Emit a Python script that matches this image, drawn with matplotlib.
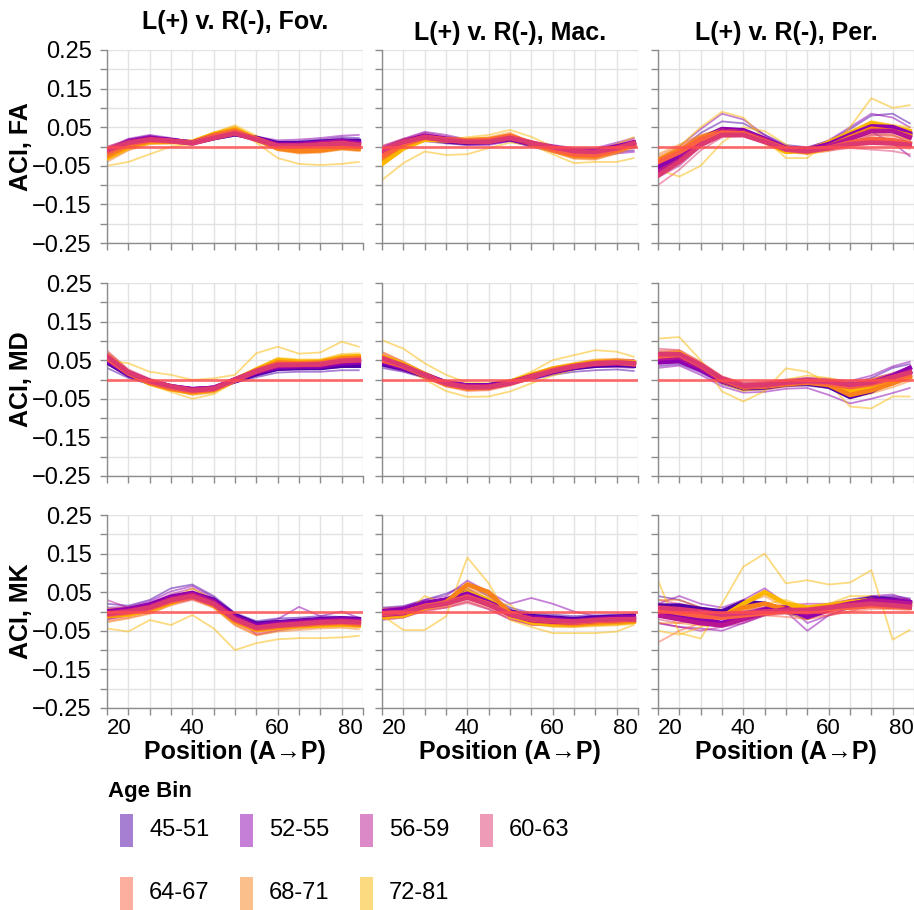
import matplotlib
matplotlib.use('Agg')
import matplotlib.pyplot as plt
from matplotlib.patches import Rectangle
import numpy as np

plt.rcParams['font.family'] = ['Liberation Sans', 'DejaVu Sans']

AGE_BINS = ['45-51', '52-55', '56-59', '60-63', '64-67', '68-71', '72-81']
BIN_COLORS = ['#4f00a9', '#8f00b1', '#b91591', '#dd3971', '#fb6141', '#f98119', '#fbb700']
POSITIONS = [20, 25, 30, 35, 40, 45, 50, 55, 60, 65, 70, 75, 79]
ROW_LABELS = ['ACI, FA', 'ACI, MD', 'ACI, MK']
COL_TITLES = ['L(+) v. R(-), Fov.', 'L(+) v. R(-), Mac.', 'L(+) v. R(-), Per.']
X_LABEL = 'Position (A\u2192P)'
Y_TICKS = [-0.25, -0.20, -0.15, -0.10, -0.05, 0.0, 0.05, 0.10, 0.15, 0.20, 0.25]
Y_TICK_LABELS = ['\u22120.25', '', '\u22120.15', '', '\u22120.05', '', '0.05', '', '0.15', '', '0.25']
X_TICKS = [20, 25, 30, 35, 40, 45, 50, 55, 60, 65, 70, 75, 80]
X_TICK_LABELS = ['20', '', '', '', '40', '', '', '', '60', '', '', '', '80']

# ---------------- FA, Fov. ----------------
FA_FOV_MEAN = [
    [-0.020, 0.010, 0.020, 0.016, 0.010, 0.022, 0.032, 0.022, 0.008, 0.008, 0.012, 0.015, 0.014],
    [-0.012, 0.012, 0.022, 0.016, 0.010, 0.024, 0.034, 0.020, 0.005, 0.006, 0.010, 0.014, 0.010],
    [-0.015, 0.008, 0.020, 0.014, 0.010, 0.026, 0.036, 0.020, 0.003, 0.003, 0.008, 0.012, 0.006],
    [-0.010, 0.010, 0.018, 0.015, 0.008, 0.022, 0.034, 0.018, 0.002, 0.002, 0.004, 0.008, 0.004],
    [-0.015, 0.006, 0.016, 0.014, 0.009, 0.026, 0.038, 0.020, 0.000, 0.000, 0.004, 0.008, 0.002],
    [-0.025, 0.002, 0.014, 0.013, 0.010, 0.030, 0.042, 0.018, -0.005, -0.012, -0.010, -0.003, -0.006],
    [-0.030, -0.002, 0.012, 0.012, 0.012, 0.032, 0.045, 0.020, -0.004, -0.008, -0.006, 0.000, -0.002],
]
FA_FOV_THIN = [
    [-0.030, 0.000, 0.015, 0.014, 0.006, 0.018, 0.028, 0.024, 0.012, 0.014, 0.018, 0.024, 0.022],
    [-0.010, 0.018, 0.028, 0.020, 0.012, 0.024, 0.034, 0.018, 0.004, 0.004, 0.008, 0.010, 0.008],
    [-0.005, 0.020, 0.030, 0.022, 0.012, 0.020, 0.030, 0.026, 0.016, 0.018, 0.022, 0.028, 0.030],
    [-0.025, 0.004, 0.014, 0.012, 0.008, 0.024, 0.036, 0.016, 0.000, -0.002, 0.004, 0.006, 0.002],
    [-0.028, -0.004, 0.012, 0.012, 0.008, 0.028, 0.040, 0.018, 0.000, 0.004, 0.006, 0.012, 0.004],
    [-0.002, 0.018, 0.026, 0.018, 0.012, 0.022, 0.030, 0.022, 0.010, 0.008, 0.014, 0.020, 0.012],
    [-0.020, 0.004, 0.014, 0.012, 0.004, 0.018, 0.030, 0.014, -0.004, -0.002, 0.002, 0.004, -0.002],
    [0.000, 0.016, 0.024, 0.018, 0.010, 0.026, 0.040, 0.022, 0.006, 0.006, 0.010, 0.012, 0.010],
    [-0.035, -0.008, 0.008, 0.010, 0.006, 0.030, 0.046, 0.022, -0.008, -0.010, -0.004, 0.002, -0.006],
    [-0.005, 0.014, 0.022, 0.016, 0.012, 0.022, 0.032, 0.016, 0.004, 0.004, 0.006, 0.010, 0.008],
    [-0.040, -0.010, 0.006, 0.008, 0.008, 0.034, 0.052, 0.020, -0.010, -0.018, -0.016, -0.008, -0.012],
    [-0.012, 0.010, 0.020, 0.016, 0.012, 0.028, 0.040, 0.016, 0.000, -0.004, -0.002, 0.004, 0.000],
    [-0.050, -0.040, -0.020, 0.000, 0.006, 0.030, 0.045, 0.010, -0.030, -0.045, -0.048, -0.045, -0.040],
    [-0.020, 0.008, 0.020, 0.016, 0.014, 0.036, 0.055, 0.028, 0.002, -0.004, 0.000, 0.006, 0.002],
]

# ---------------- FA, Mac. ----------------
FA_MAC_MEAN = [
    [-0.018, 0.010, 0.022, 0.014, 0.010, 0.012, 0.020, 0.006, -0.004, -0.012, -0.014, -0.004, 0.002],
    [-0.015, 0.012, 0.028, 0.020, 0.014, 0.012, 0.020, 0.008, -0.002, -0.012, -0.012, 0.000, 0.010],
    [-0.020, 0.008, 0.026, 0.018, 0.012, 0.014, 0.022, 0.008, -0.004, -0.016, -0.016, -0.004, 0.010],
    [-0.010, 0.012, 0.024, 0.016, 0.012, 0.012, 0.022, 0.010, -0.002, -0.012, -0.014, -0.004, 0.008],
    [-0.025, 0.006, 0.024, 0.018, 0.014, 0.016, 0.026, 0.010, -0.008, -0.020, -0.022, -0.008, 0.006],
    [-0.030, 0.004, 0.022, 0.018, 0.016, 0.018, 0.028, 0.008, -0.010, -0.024, -0.026, -0.010, 0.004],
    [-0.045, -0.005, 0.018, 0.016, 0.016, 0.018, 0.026, 0.006, -0.008, -0.020, -0.020, -0.008, 0.004],
]
FA_MAC_THIN = [
    [-0.030, 0.000, 0.014, 0.008, 0.004, 0.006, 0.014, 0.000, -0.012, -0.020, -0.022, -0.014, -0.010],
    [-0.005, 0.018, 0.030, 0.020, 0.014, 0.016, 0.024, 0.010, 0.002, -0.006, -0.006, 0.004, 0.012],
    [-0.002, 0.020, 0.038, 0.030, 0.018, 0.014, 0.022, 0.012, 0.004, -0.004, -0.004, 0.010, 0.022],
    [-0.028, 0.002, 0.018, 0.010, 0.004, 0.004, 0.014, 0.000, -0.014, -0.024, -0.026, -0.018, -0.014],
    [-0.035, -0.004, 0.020, 0.016, 0.010, 0.012, 0.018, 0.004, -0.008, -0.018, -0.020, -0.008, 0.004],
    [0.000, 0.018, 0.036, 0.026, 0.016, 0.016, 0.026, 0.012, 0.000, -0.010, -0.008, 0.006, 0.018],
    [-0.020, 0.004, 0.018, 0.010, 0.008, 0.010, 0.020, 0.006, -0.006, -0.018, -0.020, -0.010, 0.000],
    [0.002, 0.020, 0.030, 0.022, 0.016, 0.016, 0.026, 0.014, 0.002, -0.006, -0.008, 0.002, 0.014],
    [-0.040, -0.004, 0.020, 0.018, 0.016, 0.020, 0.032, 0.012, -0.014, -0.030, -0.032, -0.018, -0.004],
    [-0.012, 0.014, 0.028, 0.018, 0.012, 0.012, 0.020, 0.008, -0.002, -0.012, -0.014, 0.000, 0.012],
    [-0.038, 0.000, 0.026, 0.022, 0.020, 0.024, 0.036, 0.010, -0.014, -0.032, -0.034, -0.018, 0.000],
    [-0.018, 0.008, 0.020, 0.014, 0.012, 0.014, 0.022, 0.006, -0.006, -0.016, -0.018, -0.006, 0.008],
    [-0.087, -0.043, -0.013, -0.022, -0.020, -0.004, 0.010, 0.004, -0.020, -0.043, -0.040, -0.040, -0.030],
    [-0.030, 0.004, 0.020, 0.018, 0.024, 0.030, 0.043, 0.025, 0.000, -0.010, -0.012, 0.006, 0.024],
]

# ---------------- FA, Per. ----------------
FA_PER_MEAN = [
    [-0.060, -0.030, 0.015, 0.040, 0.040, 0.018, -0.006, -0.012, 0.002, 0.028, 0.050, 0.048, 0.030],
    [-0.050, -0.020, 0.020, 0.045, 0.042, 0.020, -0.004, -0.008, 0.006, 0.030, 0.052, 0.050, 0.034],
    [-0.065, -0.035, 0.010, 0.040, 0.036, 0.016, -0.006, -0.010, 0.000, 0.020, 0.040, 0.040, 0.024],
    [-0.075, -0.040, 0.004, 0.030, 0.030, 0.012, -0.008, -0.012, -0.004, 0.006, 0.010, 0.008, 0.004],
    [-0.040, -0.015, 0.018, 0.036, 0.034, 0.014, -0.006, -0.012, -0.004, 0.010, 0.020, 0.016, 0.008],
    [-0.035, -0.010, 0.022, 0.040, 0.036, 0.016, -0.008, -0.014, 0.000, 0.024, 0.046, 0.040, 0.028],
    [-0.040, -0.020, 0.020, 0.044, 0.040, 0.012, -0.014, -0.010, 0.010, 0.034, 0.060, 0.050, 0.040],
]
FA_PER_THIN = [
    [-0.070, -0.040, 0.008, 0.034, 0.034, 0.012, -0.012, -0.018, -0.004, 0.020, 0.044, 0.040, 0.018],
    [-0.045, -0.010, 0.035, 0.065, 0.060, 0.030, 0.004, -0.002, 0.014, 0.045, 0.080, 0.085, 0.060],
    [-0.035, 0.000, 0.045, 0.085, 0.070, 0.030, 0.000, -0.004, 0.016, 0.050, 0.085, 0.075, 0.050],
    [-0.060, -0.035, 0.005, 0.034, 0.034, 0.012, -0.014, -0.016, -0.004, 0.018, 0.038, 0.010, -0.025],
    [-0.080, -0.050, 0.000, 0.032, 0.030, 0.010, -0.010, -0.014, -0.008, 0.010, 0.030, 0.030, 0.010],
    [-0.050, -0.020, 0.022, 0.048, 0.044, 0.022, 0.000, -0.004, 0.008, 0.030, 0.052, 0.054, 0.038],
    [-0.100, -0.060, -0.010, 0.024, 0.026, 0.008, -0.012, -0.016, -0.010, -0.004, -0.008, -0.012, -0.020],
    [-0.055, -0.025, 0.015, 0.038, 0.036, 0.016, -0.004, -0.008, 0.002, 0.014, 0.022, 0.020, 0.012],
    [-0.055, -0.030, 0.010, 0.030, 0.030, 0.010, -0.010, -0.018, -0.012, 0.000, 0.008, 0.004, -0.006],
    [-0.025, 0.000, 0.028, 0.044, 0.040, 0.020, -0.002, -0.006, 0.004, 0.020, 0.030, 0.026, 0.018],
    [-0.020, 0.005, 0.030, 0.046, 0.040, 0.020, -0.004, -0.010, 0.004, 0.030, 0.054, 0.050, 0.040],
    [-0.050, -0.025, 0.012, 0.034, 0.032, 0.010, -0.014, -0.020, -0.006, 0.016, 0.036, 0.030, 0.016],
    [-0.060, -0.078, -0.050, 0.010, 0.050, 0.040, 0.005, -0.020, -0.010, 0.050, 0.125, 0.100, 0.107],
    [-0.030, 0.000, 0.050, 0.090, 0.075, 0.020, -0.030, -0.030, 0.016, 0.040, 0.066, 0.056, 0.050],
]

# ---------------- MD, Fov. ----------------
MD_FOV_MEAN = [
    [0.045, 0.012, -0.008, -0.020, -0.026, -0.022, -0.004, 0.014, 0.028, 0.030, 0.030, 0.036, 0.036],
    [0.050, 0.014, -0.006, -0.018, -0.025, -0.022, -0.002, 0.018, 0.032, 0.034, 0.034, 0.042, 0.044],
    [0.058, 0.018, -0.004, -0.018, -0.026, -0.022, 0.000, 0.020, 0.036, 0.038, 0.038, 0.048, 0.050],
    [0.060, 0.018, -0.004, -0.018, -0.028, -0.024, 0.000, 0.022, 0.038, 0.038, 0.040, 0.048, 0.050],
    [0.055, 0.016, -0.008, -0.022, -0.030, -0.026, -0.002, 0.022, 0.040, 0.040, 0.040, 0.050, 0.052],
    [0.060, 0.018, -0.008, -0.024, -0.032, -0.026, 0.000, 0.024, 0.044, 0.042, 0.044, 0.054, 0.056],
    [0.055, 0.016, -0.010, -0.025, -0.034, -0.028, -0.002, 0.026, 0.050, 0.046, 0.046, 0.058, 0.060],
]
MD_FOV_THIN = [
    [0.030, 0.004, -0.012, -0.022, -0.026, -0.020, -0.008, 0.006, 0.018, 0.020, 0.020, 0.024, 0.024],
    [0.060, 0.020, -0.002, -0.016, -0.024, -0.020, 0.002, 0.020, 0.036, 0.038, 0.040, 0.046, 0.048],
    [0.040, 0.008, -0.010, -0.020, -0.028, -0.026, -0.006, 0.012, 0.026, 0.026, 0.028, 0.032, 0.034],
    [0.065, 0.022, 0.000, -0.014, -0.022, -0.018, 0.004, 0.024, 0.040, 0.042, 0.042, 0.050, 0.054],
    [0.070, 0.024, 0.000, -0.016, -0.024, -0.020, 0.002, 0.024, 0.042, 0.044, 0.044, 0.054, 0.058],
    [0.045, 0.012, -0.008, -0.022, -0.030, -0.026, -0.004, 0.016, 0.030, 0.032, 0.032, 0.040, 0.042],
    [0.075, 0.026, 0.002, -0.014, -0.024, -0.020, 0.004, 0.026, 0.044, 0.044, 0.046, 0.056, 0.060],
    [0.048, 0.012, -0.010, -0.024, -0.032, -0.028, -0.004, 0.018, 0.034, 0.034, 0.036, 0.042, 0.044],
    [0.045, 0.010, -0.012, -0.028, -0.038, -0.032, -0.008, 0.018, 0.036, 0.036, 0.036, 0.044, 0.046],
    [0.068, 0.022, -0.004, -0.018, -0.026, -0.022, 0.002, 0.026, 0.044, 0.044, 0.046, 0.056, 0.058],
    [0.072, 0.024, -0.006, -0.026, -0.040, -0.034, -0.004, 0.026, 0.050, 0.046, 0.050, 0.062, 0.064],
    [0.050, 0.014, -0.010, -0.024, -0.034, -0.028, -0.002, 0.022, 0.040, 0.038, 0.040, 0.048, 0.050],
    [0.050, 0.042, 0.020, 0.012, -0.001, 0.003, 0.012, 0.068, 0.085, 0.067, 0.070, 0.098, 0.085],
    [0.060, 0.014, -0.014, -0.032, -0.050, -0.038, -0.006, 0.028, 0.056, 0.052, 0.052, 0.066, 0.068],
]

# ---------------- MD, Mac. ----------------
MD_MAC_MEAN = [
    [0.040, 0.028, 0.010, -0.010, -0.016, -0.015, -0.006, 0.006, 0.020, 0.030, 0.036, 0.038, 0.036],
    [0.045, 0.030, 0.012, -0.008, -0.016, -0.016, -0.008, 0.006, 0.020, 0.032, 0.040, 0.042, 0.040],
    [0.052, 0.034, 0.012, -0.010, -0.018, -0.018, -0.008, 0.008, 0.022, 0.034, 0.040, 0.042, 0.040],
    [0.055, 0.036, 0.012, -0.010, -0.020, -0.020, -0.010, 0.006, 0.022, 0.034, 0.042, 0.044, 0.042],
    [0.050, 0.034, 0.010, -0.012, -0.022, -0.020, -0.010, 0.006, 0.024, 0.034, 0.042, 0.044, 0.040],
    [0.058, 0.036, 0.012, -0.012, -0.022, -0.020, -0.008, 0.010, 0.026, 0.036, 0.044, 0.046, 0.042],
    [0.060, 0.040, 0.014, -0.012, -0.022, -0.020, -0.006, 0.012, 0.028, 0.038, 0.046, 0.046, 0.044],
]
MD_MAC_THIN = [
    [0.030, 0.020, 0.004, -0.014, -0.020, -0.020, -0.012, 0.000, 0.012, 0.020, 0.024, 0.026, 0.022],
    [0.050, 0.034, 0.016, -0.004, -0.012, -0.012, -0.002, 0.012, 0.026, 0.036, 0.044, 0.046, 0.046],
    [0.035, 0.022, 0.006, -0.012, -0.018, -0.018, -0.012, 0.000, 0.014, 0.026, 0.032, 0.032, 0.030],
    [0.060, 0.040, 0.018, -0.004, -0.012, -0.012, -0.004, 0.012, 0.028, 0.040, 0.048, 0.050, 0.050],
    [0.065, 0.042, 0.018, -0.006, -0.014, -0.014, -0.004, 0.012, 0.028, 0.040, 0.046, 0.048, 0.046],
    [0.042, 0.028, 0.006, -0.016, -0.024, -0.022, -0.012, 0.004, 0.018, 0.028, 0.034, 0.036, 0.034],
    [0.070, 0.046, 0.018, -0.006, -0.016, -0.016, -0.006, 0.010, 0.026, 0.038, 0.048, 0.052, 0.050],
    [0.045, 0.028, 0.006, -0.016, -0.026, -0.026, -0.014, 0.002, 0.018, 0.030, 0.036, 0.036, 0.034],
    [0.040, 0.026, 0.004, -0.018, -0.030, -0.028, -0.016, 0.002, 0.020, 0.030, 0.038, 0.040, 0.036],
    [0.062, 0.042, 0.016, -0.006, -0.016, -0.014, -0.004, 0.012, 0.028, 0.038, 0.046, 0.048, 0.046],
    [0.072, 0.046, 0.018, -0.008, -0.018, -0.016, -0.004, 0.014, 0.032, 0.042, 0.052, 0.054, 0.050],
    [0.048, 0.030, 0.006, -0.018, -0.028, -0.026, -0.012, 0.006, 0.022, 0.032, 0.040, 0.040, 0.036],
    [0.102, 0.080, 0.042, 0.012, -0.008, -0.010, -0.002, 0.020, 0.050, 0.063, 0.076, 0.072, 0.059],
    [0.050, 0.030, 0.000, -0.030, -0.045, -0.044, -0.031, -0.010, 0.010, 0.025, 0.036, 0.040, 0.036],
]

# ---------------- MD, Per. ----------------
MD_PER_MEAN = [
    [0.050, 0.052, 0.028, -0.004, -0.022, -0.020, -0.012, -0.010, -0.018, -0.045, -0.030, 0.000, 0.020],
    [0.045, 0.048, 0.025, -0.004, -0.020, -0.018, -0.010, -0.006, -0.008, -0.014, -0.008, 0.010, 0.030],
    [0.055, 0.058, 0.032, -0.002, -0.018, -0.016, -0.008, -0.004, -0.008, -0.018, -0.010, 0.006, 0.020],
    [0.065, 0.066, 0.038, 0.002, -0.016, -0.014, -0.008, -0.004, -0.006, -0.014, -0.008, 0.006, 0.018],
    [0.060, 0.064, 0.036, 0.000, -0.018, -0.016, -0.010, -0.006, -0.010, -0.020, -0.012, 0.002, 0.012],
    [0.058, 0.062, 0.034, -0.002, -0.020, -0.018, -0.012, -0.008, -0.014, -0.040, -0.028, -0.010, 0.006],
    [0.062, 0.068, 0.036, 0.000, -0.020, -0.016, -0.008, -0.004, -0.010, -0.030, -0.020, -0.004, 0.010],
]
MD_PER_THIN = [
    [0.035, 0.040, 0.018, -0.012, -0.028, -0.026, -0.018, -0.016, -0.022, -0.040, -0.034, -0.010, 0.006],
    [0.060, 0.064, 0.036, 0.004, -0.014, -0.012, -0.004, 0.000, -0.006, -0.014, 0.004, 0.030, 0.040],
    [0.030, 0.036, 0.012, -0.018, -0.034, -0.032, -0.024, -0.022, -0.040, -0.062, -0.050, -0.035, -0.022],
    [0.060, 0.062, 0.036, 0.006, -0.010, -0.008, 0.000, 0.004, 0.000, -0.004, 0.010, 0.034, 0.046],
    [0.072, 0.072, 0.040, 0.004, -0.012, -0.010, -0.002, 0.002, 0.000, -0.008, 0.000, 0.016, 0.030],
    [0.040, 0.044, 0.022, -0.010, -0.026, -0.024, -0.016, -0.012, -0.016, -0.028, -0.020, -0.006, 0.008],
    [0.080, 0.076, 0.044, 0.008, -0.010, -0.006, -0.002, 0.004, 0.002, -0.004, 0.002, 0.016, 0.028],
    [0.050, 0.054, 0.030, -0.004, -0.022, -0.020, -0.014, -0.010, -0.012, -0.022, -0.016, -0.002, 0.008],
    [0.045, 0.050, 0.026, -0.008, -0.026, -0.024, -0.016, -0.012, -0.016, -0.030, -0.022, -0.008, 0.004],
    [0.075, 0.076, 0.046, 0.008, -0.010, -0.008, -0.004, 0.000, -0.002, -0.010, -0.002, 0.012, 0.022],
    [0.070, 0.074, 0.042, 0.004, -0.014, -0.012, -0.006, -0.002, -0.006, -0.030, -0.020, 0.000, 0.018],
    [0.046, 0.050, 0.026, -0.008, -0.028, -0.026, -0.018, -0.014, -0.020, -0.048, -0.036, -0.020, -0.004],
    [0.106, 0.110, 0.050, -0.031, -0.057, -0.030, 0.029, 0.020, -0.010, -0.070, -0.075, -0.044, -0.044],
    [0.050, 0.056, 0.030, -0.010, -0.030, -0.020, 0.000, 0.010, 0.004, -0.010, 0.000, 0.014, 0.028],
]

# ---------------- MK, Fov. ----------------
MK_FOV_MEAN = [
    [-0.002, 0.004, 0.016, 0.036, 0.046, 0.030, -0.010, -0.032, -0.028, -0.024, -0.020, -0.018, -0.020],
    [0.000, 0.006, 0.018, 0.038, 0.048, 0.028, -0.014, -0.036, -0.030, -0.026, -0.022, -0.020, -0.022],
    [-0.004, 0.002, 0.012, 0.032, 0.044, 0.024, -0.018, -0.042, -0.034, -0.030, -0.026, -0.024, -0.026],
    [-0.006, 0.000, 0.010, 0.030, 0.040, 0.020, -0.020, -0.042, -0.036, -0.032, -0.028, -0.026, -0.028],
    [-0.008, -0.002, 0.008, 0.026, 0.038, 0.018, -0.022, -0.044, -0.038, -0.034, -0.030, -0.028, -0.030],
    [-0.010, -0.004, 0.006, 0.026, 0.040, 0.018, -0.024, -0.046, -0.040, -0.036, -0.032, -0.030, -0.034],
    [-0.012, -0.008, 0.004, 0.022, 0.044, 0.016, -0.026, -0.048, -0.042, -0.038, -0.036, -0.034, -0.036],
]
MK_FOV_THIN = [
    [0.020, 0.015, 0.030, 0.060, 0.070, 0.040, -0.004, -0.025, -0.018, -0.016, -0.012, -0.014, -0.016],
    [-0.015, -0.006, 0.006, 0.024, 0.036, 0.020, -0.018, -0.040, -0.036, -0.030, -0.026, -0.024, -0.026],
    [0.010, 0.012, 0.026, 0.052, 0.066, 0.036, -0.006, -0.030, -0.020, 0.012, -0.012, 0.000, -0.016],
    [-0.020, -0.010, 0.004, 0.020, 0.032, 0.016, -0.024, -0.048, -0.040, -0.034, -0.030, -0.028, -0.030],
    [0.030, 0.010, 0.020, 0.045, 0.060, 0.032, -0.010, -0.060, -0.050, -0.040, -0.034, -0.030, -0.032],
    [-0.018, -0.010, 0.002, 0.022, 0.034, 0.014, -0.026, -0.050, -0.030, -0.024, -0.020, -0.018, -0.022],
    [-0.020, -0.012, 0.000, 0.020, 0.034, 0.012, -0.030, -0.055, -0.044, -0.040, -0.036, -0.034, -0.036],
    [0.006, 0.010, 0.020, 0.040, 0.052, 0.030, -0.010, -0.034, -0.028, -0.024, -0.020, -0.018, -0.020],
    [-0.025, -0.016, -0.004, 0.016, 0.030, 0.010, -0.034, -0.060, -0.048, -0.044, -0.040, -0.038, -0.040],
    [0.004, 0.008, 0.018, 0.036, 0.048, 0.026, -0.014, -0.036, -0.030, -0.026, -0.022, -0.020, -0.022],
    [-0.028, -0.018, -0.006, 0.018, 0.036, 0.010, -0.036, -0.062, -0.052, -0.048, -0.044, -0.042, -0.046],
    [0.006, 0.010, 0.018, 0.036, 0.052, 0.026, -0.014, -0.036, -0.030, -0.026, -0.022, -0.020, -0.024],
    [-0.044, -0.052, -0.022, -0.035, -0.009, -0.044, -0.100, -0.082, -0.072, -0.069, -0.069, -0.067, -0.063],
    [0.004, 0.004, 0.014, 0.032, 0.060, 0.030, -0.020, -0.045, -0.036, -0.032, -0.028, -0.026, -0.030],
]

# ---------------- MK, Mac. ----------------
MK_MAC_MEAN = [
    [-0.002, 0.004, 0.020, 0.030, 0.050, 0.028, 0.000, -0.012, -0.016, -0.020, -0.016, -0.014, -0.012],
    [0.000, 0.006, 0.022, 0.030, 0.046, 0.024, -0.002, -0.016, -0.020, -0.024, -0.020, -0.016, -0.014],
    [-0.008, -0.004, 0.014, 0.022, 0.040, 0.018, -0.008, -0.022, -0.026, -0.028, -0.024, -0.022, -0.020],
    [-0.004, -0.002, 0.012, 0.020, 0.036, 0.018, -0.008, -0.020, -0.024, -0.026, -0.022, -0.020, -0.020],
    [-0.006, -0.002, 0.014, 0.022, 0.038, 0.020, -0.006, -0.020, -0.024, -0.028, -0.024, -0.022, -0.020],
    [-0.010, -0.006, 0.012, 0.024, 0.070, 0.050, -0.004, -0.024, -0.028, -0.032, -0.028, -0.026, -0.024],
    [-0.012, -0.010, 0.010, 0.022, 0.050, 0.030, -0.010, -0.028, -0.032, -0.034, -0.030, -0.028, -0.026],
]
MK_MAC_THIN = [
    [0.010, 0.014, 0.030, 0.046, 0.070, 0.040, 0.010, -0.004, -0.008, -0.012, -0.010, -0.008, -0.006],
    [-0.014, -0.008, 0.008, 0.018, 0.034, 0.016, -0.010, -0.022, -0.026, -0.030, -0.024, -0.022, -0.020],
    [0.006, 0.012, 0.030, 0.040, 0.080, 0.050, 0.020, 0.035, 0.020, 0.000, -0.012, -0.010, -0.010],
    [-0.010, -0.004, 0.014, 0.022, 0.038, 0.016, -0.010, -0.024, -0.028, -0.030, -0.026, -0.022, -0.020],
    [0.004, 0.008, 0.024, 0.034, 0.060, 0.030, 0.002, -0.014, -0.018, -0.022, -0.018, -0.016, -0.014],
    [-0.022, -0.016, 0.004, 0.010, 0.026, 0.006, -0.020, -0.034, -0.036, -0.036, -0.032, -0.030, -0.028],
    [-0.016, -0.014, 0.000, 0.010, 0.022, 0.006, -0.020, -0.034, -0.036, -0.036, -0.032, -0.030, -0.028],
    [0.008, 0.010, 0.024, 0.030, 0.046, 0.028, 0.002, -0.010, -0.014, -0.018, -0.014, -0.012, -0.012],
    [-0.018, -0.012, 0.004, 0.012, 0.026, 0.010, -0.016, -0.030, -0.034, -0.038, -0.034, -0.032, -0.030],
    [0.006, 0.008, 0.022, 0.032, 0.050, 0.030, 0.004, -0.010, -0.014, -0.018, -0.014, -0.012, -0.010],
    [-0.020, -0.016, 0.004, 0.016, 0.040, 0.030, -0.012, -0.034, -0.038, -0.040, -0.036, -0.034, -0.030],
    [0.000, 0.004, 0.020, 0.032, 0.060, 0.040, 0.004, -0.014, -0.018, -0.022, -0.018, -0.016, -0.014],
    [-0.010, -0.048, -0.048, -0.013, 0.140, 0.073, -0.022, -0.040, -0.056, -0.056, -0.056, -0.052, -0.035],
    [-0.020, -0.010, 0.040, 0.020, 0.060, 0.020, 0.018, -0.030, -0.040, -0.040, -0.038, -0.036, -0.032],
]

# ---------------- MK, Per. ----------------
MK_PER_MEAN = [
    [0.015, 0.015, 0.006, 0.000, 0.024, 0.020, 0.002, -0.008, 0.010, 0.022, 0.034, 0.030, 0.022],
    [0.000, -0.010, -0.020, -0.030, -0.010, 0.005, 0.010, -0.014, 0.004, 0.018, 0.030, 0.028, 0.024],
    [-0.010, -0.020, -0.030, -0.036, -0.020, -0.004, 0.006, -0.004, 0.008, 0.020, 0.028, 0.024, 0.020],
    [0.010, 0.006, 0.000, -0.008, -0.004, 0.000, 0.002, 0.004, 0.010, 0.016, 0.020, 0.016, 0.012],
    [0.004, -0.004, -0.012, -0.016, -0.010, -0.004, 0.000, 0.002, 0.006, 0.010, 0.014, 0.012, 0.010],
    [0.006, 0.000, -0.006, -0.012, 0.010, 0.020, 0.006, 0.004, 0.012, 0.020, 0.026, 0.022, 0.016],
    [0.004, -0.004, -0.020, -0.014, 0.020, 0.050, 0.020, 0.010, 0.016, 0.024, 0.030, 0.024, 0.018],
]
MK_PER_THIN = [
    [0.040, 0.030, 0.010, 0.000, 0.030, 0.020, -0.004, -0.020, 0.000, 0.030, 0.040, 0.036, 0.030],
    [-0.010, -0.016, -0.020, -0.030, -0.004, 0.010, 0.008, 0.004, 0.016, 0.026, 0.036, 0.040, 0.034],
    [0.020, 0.040, 0.020, 0.010, 0.030, 0.060, 0.020, -0.030, -0.010, 0.010, 0.040, 0.044, 0.030],
    [-0.030, -0.040, -0.044, -0.050, -0.030, -0.010, 0.000, -0.050, -0.010, 0.010, 0.020, 0.022, 0.016],
    [-0.030, -0.040, -0.050, -0.040, -0.030, -0.010, 0.000, -0.010, 0.000, 0.010, 0.030, 0.036, 0.030],
    [0.020, 0.010, 0.000, -0.010, 0.000, 0.010, 0.016, 0.020, 0.020, 0.030, 0.036, 0.030, 0.024],
    [-0.020, -0.030, -0.020, -0.030, -0.020, -0.010, -0.006, -0.010, -0.010, 0.000, 0.016, 0.020, 0.026],
    [0.030, 0.020, 0.010, 0.000, 0.006, 0.010, 0.016, 0.010, 0.020, 0.030, 0.030, 0.030, 0.020],
    [-0.080, -0.050, -0.030, -0.030, -0.020, -0.010, -0.014, -0.020, -0.010, 0.000, 0.006, 0.006, 0.004],
    [0.020, 0.014, 0.000, -0.004, -0.004, 0.006, 0.004, 0.010, 0.016, 0.020, 0.024, 0.020, 0.016],
    [0.030, 0.030, 0.010, 0.000, 0.020, 0.040, 0.010, -0.006, 0.010, 0.030, 0.030, 0.026, 0.020],
    [-0.030, -0.030, -0.036, -0.030, -0.010, 0.000, -0.004, -0.020, 0.000, 0.014, 0.020, 0.016, 0.010],
    [0.081, -0.056, -0.070, 0.020, 0.116, 0.150, 0.073, 0.081, 0.070, 0.075, 0.107, -0.073, -0.048],
    [-0.050, -0.060, -0.040, -0.030, 0.000, 0.020, 0.030, 0.010, 0.020, 0.040, 0.040, 0.020, 0.010],
]

PANELS = [
    [(FA_FOV_MEAN, FA_FOV_THIN), (FA_MAC_MEAN, FA_MAC_THIN), (FA_PER_MEAN, FA_PER_THIN)],
    [(MD_FOV_MEAN, MD_FOV_THIN), (MD_MAC_MEAN, MD_MAC_THIN), (MD_PER_MEAN, MD_PER_THIN)],
    [(MK_FOV_MEAN, MK_FOV_THIN), (MK_MAC_MEAN, MK_MAC_THIN), (MK_PER_MEAN, MK_PER_THIN)],
]

W, H = 914, 910
fig = plt.figure(figsize=(W / 100, H / 100), dpi=100)


def px_rect(left, top, w, h):
    return [left / W, 1 - (top + h) / H, w / W, h / H]


COL_LEFT = [107, 382, 658]
ROW_TOP = [50, 283, 515]
PW, PH = 256, 193
GRID_C = '#e2e2e2'
AXIS_C = '#8c8c8c'
THICK_ORDER = [0, 6, 1, 5, 2, 4, 3]

for r in range(3):
    for c in range(3):
        ax = fig.add_axes(px_rect(COL_LEFT[c], ROW_TOP[r], PW, PH))
        means, thins = PANELS[r][c]
        for i, ys in enumerate(thins):
            ax.plot(POSITIONS, ys, color=BIN_COLORS[i // 2], alpha=0.5, lw=1.3, zorder=2)
        for b in THICK_ORDER:
            ax.plot(POSITIONS, means[b], color=BIN_COLORS[b], lw=3.4, zorder=3)
        ax.axhline(0, color='#ff4d4d', lw=2, alpha=0.8, zorder=4)
        ax.set_xlim(20, 80)
        ax.set_ylim(-0.25, 0.25)
        ax.set_xticks(X_TICKS)
        ax.set_yticks(Y_TICKS)
        ax.grid(True, color=GRID_C, lw=1)
        ax.set_axisbelow(True)
        for s in ['top', 'right']:
            ax.spines[s].set_visible(False)
        for s in ['left', 'bottom']:
            ax.spines[s].set_color(AXIS_C)
            ax.spines[s].set_linewidth(1)
        ax.tick_params(axis='both', colors=AXIS_C, length=5, width=1, labelcolor='black')
        ax.tick_params(axis='x', pad=2, labelsize=16)
        ax.tick_params(axis='y', pad=6, labelsize=17)
        if c == 0:
            ax.set_yticklabels(Y_TICK_LABELS)
        else:
            ax.set_yticklabels([])
        if r == 2:
            ax.set_xticklabels(X_TICK_LABELS)
            lbls = ax.get_xticklabels()
            lbls[0].set_ha('left')
            lbls[-1].set_ha('right')
        else:
            ax.set_xticklabels([])
        ax.set_facecolor('white')

# titles
TITLE_Y = [22, 33, 33]
for c in range(3):
    fig.text((COL_LEFT[c] + PW / 2) / W, 1 - TITLE_Y[c] / H, COL_TITLES[c],
             ha='center', va='center', fontsize=18, fontweight='bold')
# row labels
for r in range(3):
    fig.text(21 / W, 1 - (ROW_TOP[r] + PH / 2) / H, ROW_LABELS[r], rotation=90,
             ha='center', va='center', fontsize=18, fontweight='bold')
# x labels
for c in range(3):
    fig.text((COL_LEFT[c] + PW / 2) / W, 1 - 752 / H, X_LABEL,
             ha='center', va='center', fontsize=18, fontweight='bold')

# legend
fig.text(108 / W, 1 - 792 / H, 'Age Bin', ha='left', va='center', fontsize=16, fontweight='bold')
LEG_X = [120, 240, 360, 480]
LEG_Y = [830, 893]
for i, lab in enumerate(AGE_BINS):
    col, row = i % 4, i // 4
    x0, yc = LEG_X[col], LEG_Y[row]
    fig.patches.append(Rectangle((x0 / W, 1 - (yc + 16.5) / H), 13 / W, 33 / H,
                                 transform=fig.transFigure, facecolor=BIN_COLORS[i],
                                 alpha=0.5, edgecolor='none'))
    fig.text((x0 + 29) / W, 1 - yc / H, lab, ha='left', va='center', fontsize=17)

fig.savefig('out.png', dpi=100, facecolor='white')
